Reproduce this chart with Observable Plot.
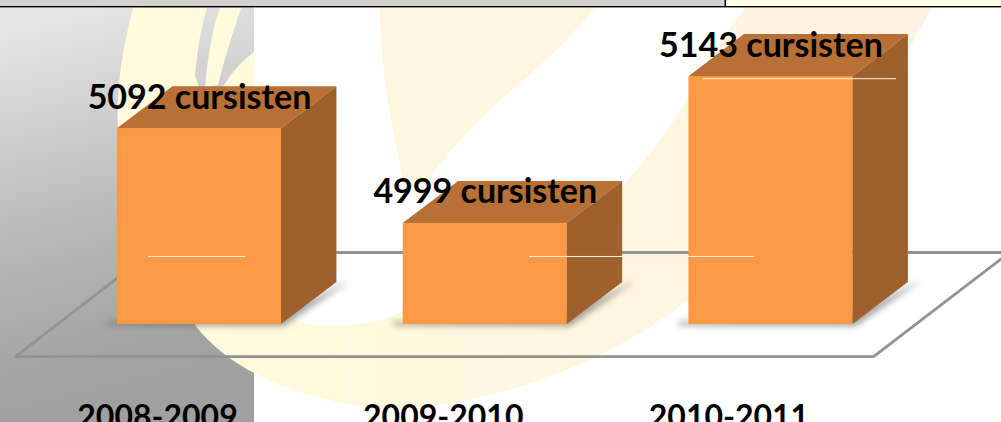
<!DOCTYPE html>
<html>
<head>
<meta charset="utf-8">
<script src="https://cdn.jsdelivr.net/npm/d3@7"></script>
<script src="https://cdn.jsdelivr.net/npm/@observablehq/plot@0.6"></script>
<style>
  html, body { margin: 0; padding: 0; background: #fff; }
  #stage { position: relative; width: 1001px; height: 422px; overflow: hidden; }
  #backdrop, #chart { position: absolute; left: 0; top: 0; }
  #chart svg { display: block; background: transparent; }
</style>
</head>
<body>
<div id="stage">
  <svg id="backdrop" width="1001" height="422" viewBox="0 0 1001 422">
    <defs>
      <linearGradient id="panel" x1="0.35" y1="0" x2="0.5" y2="1">
        <stop offset="0" stop-color="#e6e6e6"/>
        <stop offset="0.5" stop-color="#b9b9b9"/>
        <stop offset="0.85" stop-color="#a2a2a2"/>
        <stop offset="1" stop-color="#a0a0a0"/>
      </linearGradient>
      <linearGradient id="pale" x1="0" y1="0" x2="1" y2="0">
        <stop offset="0" stop-color="#fffbdc"/>
        <stop offset="1" stop-color="#fff2e4"/>
      </linearGradient>
    </defs>
    <rect x="0" y="0" width="1001" height="422" fill="#fff"/>
    <rect x="0" y="7" width="254" height="415" fill="url(#panel)"/>
    <path d="M133,8 L207,8 C200,30 197,55 195,75 L200,90 L260,130 L118,130 C116,90 122,50 133,8 Z" fill="#fffbdc"/>
    <path d="M220,8 L241,8 C232,35 224,60 218,85 L205,88 C208,55 212,30 220,8 Z" fill="#fffbdc"/>
    <path d="M254,52 C240,62 230,75 222,88 L254,88 Z" fill="#fffbdc"/>
    <path d="M380,8 L595,8 C560,50 530,75 500,100 C470,128 445,155 425,185 L405,185 C392,130 380,70 380,8 Z" fill="#fff6df"/>
    <path d="M195,325 C225,365 290,400 380,408 C470,412 600,370 688,300 L908,50 L932,8 L745,8 C720,40 700,75 687,100 C660,143 640,165 620,190 L403,311 C380,325 330,330 300,322 L240,300 L150,250 Z" fill="url(#pale)"/>
    <rect x="0" y="0" width="725" height="6" fill="#d4d0cb"/>
    <rect x="725" y="0" width="276" height="6" fill="#fffde8"/>
    <rect x="0" y="6" width="1001" height="1.4" fill="#000"/>
    <rect x="724.5" y="0" width="1.6" height="7" fill="#000"/>
  </svg>
  <div id="chart"></div>
</div>
<script>
const periods = ["2008-2009", "2009-2010", "2010-2011"];
const participants = [5092, 4999, 5143];
const unit = "cursisten";
const baseValue = 4900;

const colors = { front: "#fb9946", top: "#b87036", side: "#9e612d" };

// Shape of the pseudo 3D boxes, in scale units
const halfWidth = 0.287, depthX = 0.194, depthY = 41.2;
const pxX = 1 / 285.75, pxY = 1 / 1.02;

const bars = periods.map((period, i) => ({ i, period, value: participants[i] }));

const topFaces = bars.flatMap(b => [
  { i: b.i, x1: b.i - halfWidth, y1: b.value, x2: b.i - halfWidth + depthX, y2: b.value + depthY },
  { i: b.i, x1: b.i + halfWidth, y1: b.value, x2: b.i + halfWidth + depthX, y2: b.value + depthY }
]);
const sideFaces = bars.flatMap(b => [
  { i: b.i, x1: b.i + halfWidth, y1: b.value, x2: b.i + halfWidth, y2: baseValue },
  { i: b.i, x1: b.i + halfWidth + depthX, y1: b.value + depthY, x2: b.i + halfWidth + depthX, y2: baseValue + depthY }
]);
const shadows = bars.flatMap(b => {
  const L = b.i - halfWidth - 10 * pxX, R = b.i + halfWidth, D = R + depthX;
  return [
    { i: b.i, x1: L, y1: baseValue + 2 * pxY, x2: L, y2: baseValue - 1.5 * pxY },
    { i: b.i, x1: R, y1: baseValue + 10 * pxY, x2: R + 3 * pxX, y2: baseValue - 2 * pxY },
    { i: b.i, x1: D + 10 * pxX, y1: baseValue + depthY, x2: D + 10 * pxX, y2: baseValue + depthY - 1 * pxY }
  ];
});

// Floor outline
const floor = [
  { x: -0.644, y: 4868.6 }, { x: 2.359, y: 4868.6 }, { x: 2.835, y: 4970.6 },
  { x: -0.171, y: 4970.6 }, { x: -0.644, y: 4868.6 }
];

// Thin pale streaks visible across the picture
const streaks = [
  { x1: -0.178, x2: 0.161, y: 4966.7 },
  { x1: 1.155, x2: 1.943, y: 4966.7 },
  { x1: 1.764, x2: 2.439, y: 5141 }
];

const font = "Lato, Carlito, Calibri, sans-serif";

const chart = Plot.plot({
  width: 1001, height: 422,
  marginTop: 0, marginRight: 0, marginBottom: 22, marginLeft: 0,
  style: { background: "transparent", fontFamily: font },
  x: { type: "linear", domain: [-0.6964, 2.8068], range: [0, 1001], axis: null },
  y: { type: "linear", domain: [4825.5, 5217.65], axis: null },
  marks: [
    Plot.line(floor, { x: "x", y: "y", stroke: "#939393", strokeWidth: 2.8, strokeLinejoin: "miter", imageFilter: "blur(0.4px)" }),
    Plot.area(shadows, { x1: "x1", y1: "y1", x2: "x2", y2: "y2", z: "i", fill: "#666", fillOpacity: 0.6, imageFilter: "blur(3px)" }),
    Plot.rect(bars, { x1: d => d.i - halfWidth, x2: d => d.i + halfWidth, y1: baseValue, y2: "value", fill: colors.front }),
    Plot.area(topFaces, { x1: "x1", y1: "y1", x2: "x2", y2: "y2", z: "i", fill: colors.top }),
    Plot.area(sideFaces, { x1: "x1", y1: "y1", x2: "x2", y2: "y2", z: "i", fill: colors.side }),
    Plot.ruleY(streaks, { x1: "x1", x2: "x2", y: "y", stroke: "#fff1dc", strokeWidth: 1 }),
    Plot.text(bars, {
      x: "i", y: "value", text: d => `${d.value} ${unit}`,
      dy: -31, fill: "#000", fontSize: 34, fontWeight: 700, fontFamily: font
    }),
    Plot.axisX({
      ticks: [0, 1, 2], tickFormat: i => periods[i], tickSize: 0, tickPadding: 0,
      dx: -42, dy: 5, fontSize: 32, fontWeight: 700, fontFamily: font, fill: "#000", label: null, anchor: "bottom"
    })
  ]
});
document.getElementById("chart").appendChild(chart);
</script>
</body>
</html>
